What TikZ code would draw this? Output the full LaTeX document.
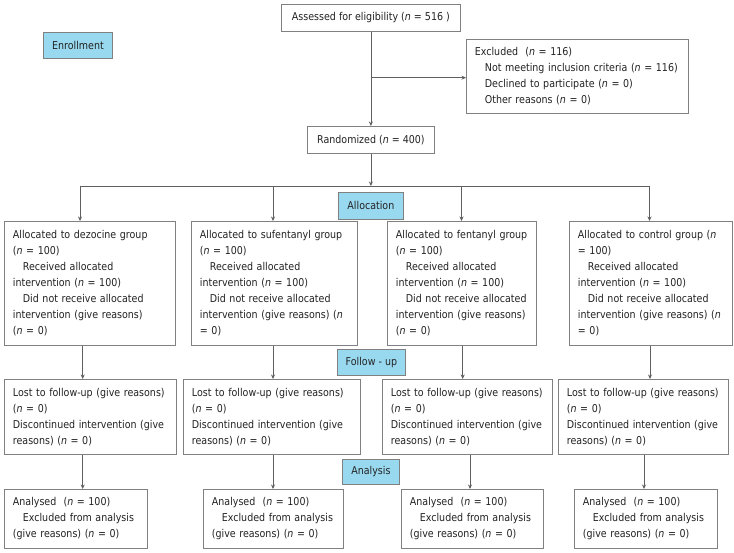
\documentclass[tikz,border=0pt]{standalone}
\usepackage{fontspec}
\setmainfont{DejaVu Sans}[FakeStretch=0.88]
\usetikzlibrary{arrows.meta}
\definecolor{bordergray}{RGB}{128,128,128}
\definecolor{linegray}{RGB}{95,95,95}
\definecolor{textcol}{RGB}{35,35,35}
\definecolor{labelblue}{RGB}{153,217,240}
\newcommand{\nn}{\textit{n}}
\newcommand{\ind}{\hspace*{10pt}}
\begin{document}
\begin{tikzpicture}[x=1pt,y=-1pt,
  every node/.style={font=\fontsize{10.8}{16}\selectfont, text=textcol},
  box/.style={draw=bordergray, line width=0.8pt, anchor=north west, inner xsep=8.5pt, inner ysep=0pt, align=left},
  cbox/.style={draw=bordergray, line width=0.8pt, anchor=north west, inner xsep=0pt, inner ysep=0pt, align=center},
  lab/.style={cbox, fill=labelblue},
  ln/.style={draw=linegray, line width=0.8pt},
  arr/.style={ln, -{Stealth[length=4.5pt,width=4pt]}}]
\useasboundingbox (0,0) rectangle (734,553);
\fill[white] (0,0) rectangle (734,553);

% top part
\node[cbox, minimum width=179pt, minimum height=27pt] (assess) at (281,4) {Assessed for eligibility (\nn{} = 516 )};
\node[lab, minimum width=69pt, minimum height=26pt] (enroll) at (43,32) {Enrollment};
\node[box, text width=205pt, minimum height=74pt] (excl) at (466,39) {Excluded\ \ (\nn{} = 116)\\
\ind Not meeting inclusion criteria (\nn{} = 116)\\
\ind Declined to participate (\nn{} = 0)\\
\ind Other reasons (\nn{} = 0)};
\node[cbox, minimum width=127pt, minimum height=27pt] (rand) at (307,126) {Randomized (\nn{} = 400)};
\node[lab, minimum width=65pt, minimum height=27pt] (alloc) at (338,192) {Allocation};
\node[lab, minimum width=68pt, minimum height=26pt] (follow) at (337,349) {Follow - up};
\node[lab, minimum width=57pt, minimum height=25pt] (anal) at (342,459) {Analysis};

% row 1
\node[box, text width=154pt, minimum height=124pt] (bA) at (4,221) {Allocated to dezocine group\\
(\nn{} = 100)\\
\ind Received allocated\\
intervention (\nn{} = 100)\\
\ind Did not receive allocated\\
intervention (give reasons)\\
(\nn{} = 0)};
\node[box, text width=149pt, minimum height=124pt] (bB) at (191,221) {Allocated to sufentanyl group\\
(\nn{} = 100)\\
\ind Received allocated\\
intervention (\nn{} = 100)\\
\ind Did not receive allocated\\
intervention (give reasons) (\nn\\
= 0)};
\node[box, text width=132pt, minimum height=124pt] (bC) at (387,221) {Allocated to fentanyl group\\
(\nn{} = 100)\\
\ind Received allocated\\
intervention (\nn{} = 100)\\
\ind Did not receive allocated\\
intervention (give reasons)\\
(\nn{} = 0)};
\node[box, text width=146pt, minimum height=124pt] (bD) at (569,221) {Allocated to control group (\nn\\
= 100)\\
\ind Received allocated\\
intervention (\nn{} = 100)\\
\ind Did not receive allocated\\
intervention (give reasons) (\nn\\
= 0)};

% row 2
\node[box, text width=155pt, minimum height=75pt] (cA) at (4,379) {Lost to follow-up (give reasons)\\
(\nn{} = 0)\\
Discontinued intervention (give\\
reasons) (\nn{} = 0)};
\node[box, text width=160pt, minimum height=75pt] (cB) at (183,379) {Lost to follow-up (give reasons)\\
(\nn{} = 0)\\
Discontinued intervention (give\\
reasons) (\nn{} = 0)};
\node[box, text width=153pt, minimum height=75pt] (cC) at (382,379) {Lost to follow-up (give reasons)\\
(\nn{} = 0)\\
Discontinued intervention (give\\
reasons) (\nn{} = 0)};
\node[box, text width=153pt, minimum height=75pt] (cD) at (558,379) {Lost to follow-up (give reasons)\\
(\nn{} = 0)\\
Discontinued intervention (give\\
reasons) (\nn{} = 0)};

% row 3
\node[box, text width=126pt, minimum height=59pt] (dA) at (4,489) {Analysed\ \ (\nn{} = 100)\\
\ind Excluded from analysis\\
(give reasons) (\nn{} = 0)};
\node[box, text width=123pt, minimum height=59pt] (dB) at (203,489) {Analysed\ \ (\nn{} = 100)\\
\ind Excluded from analysis\\
(give reasons) (\nn{} = 0)};
\node[box, text width=125pt, minimum height=59pt] (dC) at (401,489) {Analysed\ \ (\nn{} = 100)\\
\ind Excluded from analysis\\
(give reasons) (\nn{} = 0)};
\node[box, text width=126pt, minimum height=59pt] (dD) at (574,489) {Analysed\ \ (\nn{} = 100)\\
\ind Excluded from analysis\\
(give reasons) (\nn{} = 0)};

% connectors
\coordinate (br) at (370.5,77.7);
\draw[arr] (assess.south) -- (rand.north);
\draw[arr] (br) -- (br -| excl.west);
\coordinate (jA) at (80,186);
\coordinate (jB) at (273,186);
\coordinate (jC) at (461.5,186);
\coordinate (jD) at (649.5,186);
\draw[ln] (jA) -- (jD);
\draw[arr] (rand.south) -- (rand.south |- jA);
\draw[arr] (jA) -- (jA |- bA.north);
\draw[arr] (jB) -- (jB |- bB.north);
\draw[arr] (jC) -- (jC |- bC.north);
\draw[arr] (jD) -- (jD |- bD.north);

\coordinate (xA) at (82.7,0);
\coordinate (xB) at (273,0);
\coordinate (xC) at (462.7,0);
\coordinate (xD) at (650,0);
\draw[arr] (xA |- bA.south) -- (xA |- cA.north);
\draw[arr] (xB |- bB.south) -- (xB |- cB.north);
\draw[arr] (xC |- bC.south) -- (xC |- cC.north);
\draw[arr] (xD |- bD.south) -- (xD |- cD.north);

\coordinate (yA) at (82.7,0);
\coordinate (yB) at (273,0);
\coordinate (yC) at (470,0);
\coordinate (yD) at (644,0);
\draw[arr] (yA |- cA.south) -- (yA |- dA.north);
\draw[arr] (yB |- cB.south) -- (yB |- dB.north);
\draw[arr] (yC |- cC.south) -- (yC |- dC.north);
\draw[arr] (yD |- cD.south) -- (yD |- dD.north);
\end{tikzpicture}
\end{document}
